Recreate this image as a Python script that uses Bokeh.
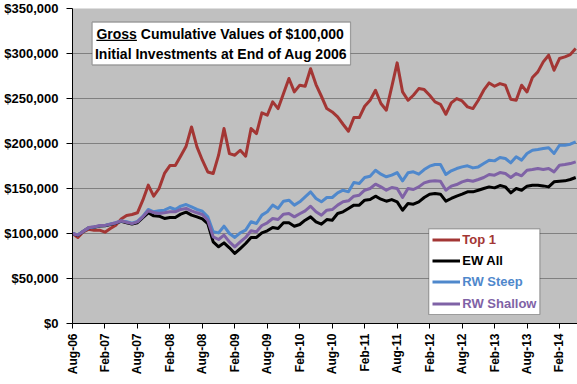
import math
from bokeh.plotting import figure
from bokeh.models import (FixedTicker, NumeralTickFormatter, Legend, LegendItem,
                          BoxAnnotation, Label, Range1d, ColumnDataSource)
from bokeh.embed import file_html
from bokeh.resources import INLINE

# ---------------- data (values in $ thousands, monthly, Aug-2006 .. May-2014) ----------------
tick_labels = ["Aug-06", "Feb-07", "Aug-07", "Feb-08", "Aug-08", "Feb-09", "Aug-09", "Feb-10",
               "Aug-10", "Feb-11", "Aug-11", "Feb-12", "Aug-12", "Feb-13", "Aug-13", "Feb-14"]

top1 = [100, 95.6, 101.9, 104.8, 103.7, 103.7, 101.5, 105.6, 109.3, 116, 120, 121.1, 123, 137,
        153.7, 141.5, 150, 166.7, 175.5, 175.5, 186, 197, 218.4, 196.2, 181.4, 168.4, 166.6, 187,
        216.6, 188.8, 187, 192.5, 185.9, 216.6, 211, 234, 231.4, 246.2, 238.8, 255.5, 272.2, 257.3,
        264.8, 263.6, 283, 265.5, 252.5, 238.8, 235.1, 229.6, 221.4, 213.6, 228.8, 228.8, 241.4,
        248, 259.2, 244.4, 237, 262.9, 289.6, 257.3, 248, 253.6, 261, 259.9, 253.6, 246.2, 243.6,
        232.5, 245.1, 249.9, 247.3, 240.7, 238.8, 248, 259.2, 267.3, 263.6, 266.6, 264.7, 249.2,
        248, 264.7, 257.3, 273.3, 279.6, 290.7, 298.1, 281.4, 294.4, 296.2, 298.8, 305.5]

ew_all = [100, 98, 102.5, 106.3, 107, 108.2, 108.7, 110, 111.5, 113.5, 112, 110.5, 112, 117.5,
          123, 119.6, 119.3, 116.7, 117.8, 117.8, 121.5, 123.7, 120.4, 118.5, 116.3, 111.1, 90.7,
          85.2, 89.6, 84.1, 77.8, 83.3, 88.9, 95.6, 95.6, 100.7, 103, 106.7, 105.6, 111.9, 111.9,
          108.1, 110, 114.8, 118.5, 112.9, 110.3, 115.5, 114.8, 122.2, 124.1, 127.8, 131.5, 131.5,
          137, 137.7, 141.5, 138.1, 135.9, 137.7, 135.2, 125.9, 133.3, 132.6, 135.2, 140, 143.7,
          144.4, 143.7, 135.9, 138.9, 141.5, 143.7, 146.3, 146.3, 148.1, 150, 151.8, 150.7, 153.3,
          151.8, 145.2, 150, 148.1, 152.6, 153.7, 153.7, 152.9, 151.8, 157.4, 158.1, 158.5, 160,
          162.2]

rw_steep = [100, 98.5, 102.5, 106.5, 107.2, 108.5, 109, 110.5, 112, 114, 113, 111.5, 113.5, 119,
            126.7, 124.1, 125.2, 125.9, 128.9, 126.7, 130.4, 132.2, 129.6, 126.7, 124.8, 118.5,
            101.9, 100.7, 108.1, 100, 95.6, 100.7, 103.7, 113, 111.1, 120.4, 124.1, 131.5, 127.8,
            135.9, 137, 131.5, 135.2, 140.7, 146.3, 138.9, 135.2, 140, 140, 145.2, 148.1, 146.3,
            156.6, 155.5, 162.2, 163.7, 170.3, 165.9, 163, 164.8, 167.7, 158.5, 167.4, 168.5,
            165.9, 171.1, 174.8, 176.6, 176.6, 165.5, 169.6, 172.2, 174, 175.2, 172.9, 174, 177.7,
            181.5, 180.7, 184.4, 183.3, 178.5, 185.2, 181.5, 188.9, 192.6, 193.3, 194.4, 195.2,
            188.9, 198.1, 198.1, 199.2, 201.8]

rw_shallow = [100, 98.2, 102.5, 106.7, 107.4, 108.8, 109, 110.4, 111.9, 114, 112.5, 111, 113, 118.5,
              125.2, 123.3, 122.2, 123, 124.1, 124.1, 126.7, 127.8, 125.2, 123, 121.1, 114.8, 96.3,
              93.3, 98.2, 90.7, 85.2, 90.7, 95.6, 103, 101.9, 108.9, 111.9, 116.7, 115.6, 121.5,
              122.2, 118.5, 122, 125.2, 130.3, 124.1, 120.3, 125.9, 126.6, 131.5, 135.2, 136.3,
              141.5, 142.6, 148.1, 150, 154.8, 151.8, 148.1, 151.1, 150, 140, 150, 148.9, 151.8,
              156.3, 158.1, 158.5, 158.1, 148.1, 152.6, 154.4, 157.4, 159.2, 158.1, 160, 162.2,
              165.5, 164.8, 167.7, 166.6, 162.2, 166.6, 164.1, 170.3, 171.1, 172.2, 171.1, 172.2,
              168.5, 175.9, 176.6, 177.7, 179.6]

series_names = ["Top 1", "EW All", "RW Steep", "RW Shallow"]
series_colors = ["#A33634", "#000000", "#4F88CC", "#7F62A6"]

# ---------------- layout ----------------
W, H = 577, 384
BL, BR, BT, BB = 72, 0, 8, 61
FW = W - BL - BR
FH = H - BT - BB
X_END = 93.33
Y_END = 350000
FONT = "Liberation Sans"


def dx(px):  # canvas pixel x -> data x (months)
    return (px - BL) / FW * X_END


def dy(py):  # canvas pixel y -> data y ($)
    return (BT + FH - py) / FH * Y_END


months = list(range(len(top1)))
src = ColumnDataSource(dict(
    m=months,
    top1=[v * 1000 for v in top1],
    ew_all=[v * 1000 for v in ew_all],
    rw_steep=[v * 1000 for v in rw_steep],
    rw_shallow=[v * 1000 for v in rw_shallow],
))

p = figure(width=W, height=H, x_range=Range1d(0, X_END), y_range=Range1d(0, Y_END),
           output_backend="svg", toolbar_location=None,
           min_border_left=BL, min_border_right=BR, min_border_top=BT, min_border_bottom=BB,
           background_fill_color="#C0C0C0", border_fill_color="white", outline_line_color=None)

renderers = []
for col, color in zip(["top1", "ew_all", "rw_steep", "rw_shallow"], series_colors):
    r = p.line("m", col, source=src, line_color=color, line_width=3, line_join="round")
    renderers.append(r)

# axes
ticks = list(range(0, 6 * len(tick_labels), 6))
p.xaxis.ticker = FixedTicker(ticks=ticks)
p.xaxis.major_label_overrides = {t: lab for t, lab in zip(ticks, tick_labels)}
p.xaxis.major_label_orientation = math.pi / 2
p.yaxis.ticker = FixedTicker(ticks=list(range(0, 350001, 50000)))
p.yaxis.formatter = NumeralTickFormatter(format="$0,0")
for ax in (p.xaxis, p.yaxis):
    ax.axis_line_color = "black"
    ax.axis_line_width = 1
    ax.major_tick_line_color = "black"
    ax.major_tick_in = 0
    ax.minor_tick_line_color = None
    ax.major_label_text_font = FONT
    ax.major_label_text_font_style = "bold"
    ax.major_label_text_color = "black"
p.xaxis.major_tick_out = 5
p.yaxis.major_tick_out = 6
p.xaxis.major_label_text_font_size = "12px"
p.xaxis.major_label_standoff = 5
p.yaxis.major_label_text_font_size = "13px"
p.yaxis.major_label_standoff = 8
p.xgrid.visible = False
p.ygrid.grid_line_color = "#808080"
p.ygrid.grid_line_width = 1

# title box
p.add_layout(BoxAnnotation(left=dx(91.7), right=dx(350), top=dy(21.7), bottom=dy(64.3),
                           fill_color="white", fill_alpha=1, line_color="black", line_width=1.2))
p.add_layout(Label(x=dx(95.9), y=dy(33.3), text="Gross", text_align="left", text_baseline="middle",
                   text_font=FONT, text_font_style="bold", text_font_size="14px", text_color="black"))
p.add_layout(BoxAnnotation(left=dx(95.9), right=dx(136.4), top=dy(39.2), bottom=dy(40.5),
                           fill_color="black", fill_alpha=1, line_color=None))
p.add_layout(Label(x=dx(140.3), y=dy(33.3), text="Cumulative Values of $100,000", text_align="left",
                   text_baseline="middle", text_font=FONT, text_font_style="bold",
                   text_font_size="14px", text_color="black"))
p.add_layout(Label(x=dx(220.5), y=dy(53.3), text="Initial Investments at End of Aug 2006",
                   text_align="center", text_baseline="middle", text_font=FONT,
                   text_font_style="bold", text_font_size="14px", text_color="black"))

# legend box + one legend per entry (each entry has its own text colour)
p.add_layout(BoxAnnotation(left=dx(428.3), right=dx(539.3), top=dy(228.3), bottom=dy(314),
                           fill_color="white", fill_alpha=1, line_color="black", line_width=1.2))
frame_bottom = BT + FH
centers = [239.3, 260.3, 281.7, 303.3]
for name, r, color, c in zip(series_names, renderers, series_colors, centers):
    lg = Legend(items=[LegendItem(label=name, renderers=[r])],
                location=(432.3 - BL, frame_bottom - (c + 10.5)),
                padding=0, margin=0, spacing=0, border_line_color=None,
                background_fill_alpha=0, glyph_width=28, glyph_height=21, label_height=21,
                label_standoff=2, label_text_color=color, label_text_font=FONT,
                label_text_font_style="bold", label_text_font_size="13px")
    p.add_layout(lg)

open("out.html", "w").write(file_html(p, INLINE))
